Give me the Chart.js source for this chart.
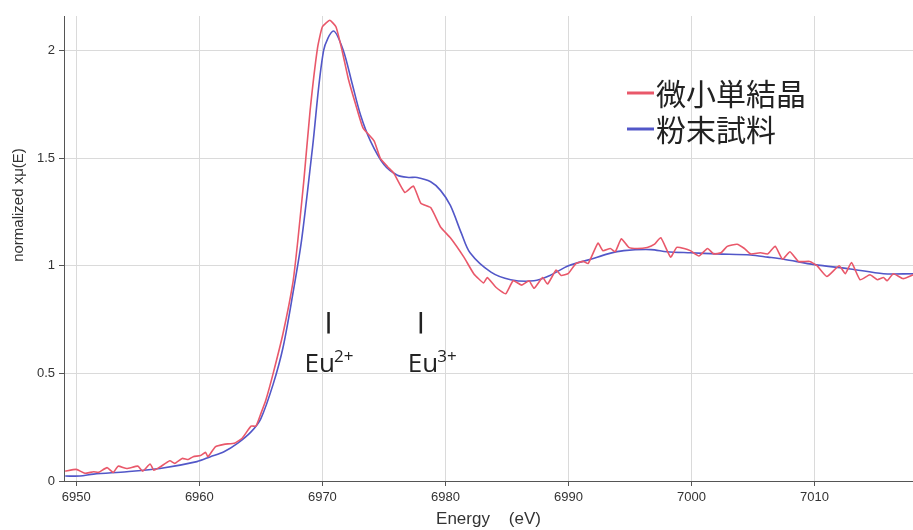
<!DOCTYPE html>
<html>
<head>
<meta charset="utf-8">
<script src="https://cdn.jsdelivr.net/npm/chart.js@4/dist/chart.umd.min.js"></script>
<style>
  html, body { margin: 0; padding: 0; background: #fff; }
  #wrap { width: 913px; height: 530px; }
</style>
</head>
<body>
<div id="wrap"><canvas id="xanes"></canvas></div>
<script>
// 微小単結晶 (red)
const redEnergy = [6949.1, 6950.0, 6950.7, 6951.4, 6951.8, 6952.5, 6953.0, 6953.4, 6954.1, 6955.0,
  6955.4, 6956.0, 6956.3, 6956.8, 6957.6, 6958.0, 6958.6, 6959.1, 6959.5, 6960.1,
  6960.5, 6960.7, 6961.3, 6962.0, 6962.9, 6963.5, 6964.2, 6964.6, 6965.0, 6965.4,
  6966.0, 6966.8, 6967.6, 6968.0, 6968.5, 6969.0, 6969.6, 6970.0, 6970.6, 6971.1,
  6971.6, 6972.1, 6972.7, 6973.3, 6974.2, 6974.7, 6975.3, 6975.8, 6976.7, 6977.4,
  6978.0, 6978.8, 6979.6, 6980.4, 6981.5, 6982.3, 6983.1, 6983.4, 6984.1, 6984.9,
  6985.5, 6986.2, 6986.8, 6987.2, 6987.9, 6988.3, 6989.0, 6989.4, 6990.0, 6990.6,
  6991.2, 6991.6, 6992.4, 6992.8, 6993.4, 6993.8, 6994.3, 6994.9, 6995.6, 6996.4,
  6997.0, 6997.5, 6998.3, 6998.8, 6999.4, 6999.9, 7000.6, 7001.3, 7001.8, 7002.4,
  7002.9, 7003.7, 7004.3, 7004.8, 7005.6, 7006.2, 7006.8, 7007.4, 7008.0, 7008.7,
  7009.6, 7010.2, 7011.0, 7012.0, 7012.5, 7013.0, 7013.7, 7014.5, 7015.1, 7015.6,
  7015.9, 7016.4, 7017.2, 7018.0];
const redMu = [0.046, 0.054, 0.036, 0.043, 0.040, 0.062, 0.040, 0.069, 0.058, 0.069,
  0.046, 0.079, 0.050, 0.065, 0.094, 0.082, 0.105, 0.100, 0.113, 0.118,
  0.133, 0.113, 0.159, 0.170, 0.177, 0.200, 0.255, 0.255, 0.313, 0.375,
  0.50, 0.685, 0.92, 1.115, 1.40, 1.72, 2.01, 2.11, 2.14, 2.11,
  2.00, 1.87, 1.75, 1.64, 1.58, 1.50, 1.46, 1.43, 1.34, 1.37,
  1.29, 1.27, 1.18, 1.13, 1.04, 0.963, 0.92, 0.945, 0.90, 0.87,
  0.93, 0.91, 0.93, 0.895, 0.945, 0.915, 0.98, 0.955, 0.965, 1.01,
  1.02, 1.01, 1.105, 1.07, 1.08, 1.065, 1.125, 1.085, 1.08, 1.085,
  1.10, 1.13, 1.04, 1.085, 1.08, 1.07, 1.045, 1.08, 1.055, 1.06,
  1.09, 1.10, 1.08, 1.055, 1.06, 1.055, 1.09, 1.03, 1.065, 1.02,
  1.02, 1.0, 0.95, 1.0, 0.963, 1.015, 0.935, 0.958, 0.935, 0.945,
  0.93, 0.963, 0.94, 0.958];

// 粉末試料 (blue)
const blueEnergy = [6949.1, 6950.3, 6951.4, 6954.1, 6956.8, 6959.8, 6960.9, 6962.0, 6963.1, 6964.2,
  6965.0, 6966.0, 6966.8, 6967.6, 6968.3, 6969.2, 6970.1, 6970.9, 6971.7, 6972.4,
  6973.1, 6973.9, 6975.0, 6976.1, 6977.0, 6977.7, 6978.8, 6979.6, 6980.4, 6981.3,
  6982.0, 6983.7, 6985.3, 6987.2, 6988.5, 6990.0, 6991.8, 6993.2, 6994.5, 6996.7,
  6998.0, 6999.9, 7002.1, 7004.8, 7006.2, 7007.5, 7010.0, 7012.9, 7015.6, 7018.0];
const blueMu = [0.023, 0.023, 0.032, 0.043, 0.058, 0.090, 0.113, 0.136, 0.175, 0.228,
  0.29, 0.45, 0.62, 0.87, 1.115, 1.55, 2.00, 2.09, 2.00, 1.85,
  1.70, 1.58, 1.47, 1.42, 1.41, 1.41, 1.39, 1.35, 1.28, 1.15,
  1.06, 0.97, 0.935, 0.93, 0.955, 1.00, 1.03, 1.055, 1.07, 1.075,
  1.065, 1.06, 1.055, 1.05, 1.04, 1.03, 1.005, 0.985, 0.963, 0.963];

const seriesNames = ['微小単結晶', '粉末試料'];
const seriesColors = ['#e9586a', '#5257c8'];

// Eu edge markers: bar energy, label text, superscript
const markerEnergy = [6970.5, 6978.0];
const markerBase = ['Eu', 'Eu'];
const markerSup = ['2+', '3+'];

const axisFont = "'Liberation Sans', Arial, sans-serif";

function pairs(xs, ys) {
  return xs.map((x, i) => ({ x: x, y: ys[i] }));
}

// ラベル・凡例・軸タイトルを描く
const extraText = {
  id: 'extraText',
  afterDraw(chart) {
    const ctx = chart.ctx;
    const xs = chart.scales.x, ys = chart.scales.y;
    ctx.save();

    // Eu markers
    ctx.fillStyle = '#222';
    ctx.strokeStyle = '#222';
    markerEnergy.forEach((e, i) => {
      const px = xs.getPixelForValue(e);
      ctx.lineWidth = 2.5;
      ctx.beginPath();
      ctx.moveTo(px, ys.getPixelForValue(0.785));
      ctx.lineTo(px, ys.getPixelForValue(0.685));
      ctx.stroke();
      const left = px - (i === 0 ? 24 : 13);
      const base = ys.getPixelForValue(0.505);
      ctx.font = '26px "Open Sans"';
      ctx.textAlign = 'left';
      ctx.textBaseline = 'alphabetic';
      ctx.fillText(markerBase[i], left, base);
      const w = ctx.measureText(markerBase[i]).width;
      ctx.font = '17px "Open Sans"';
      ctx.fillText(markerSup[i], left + w - 1, base - 10);
    });

    // legend
    const rows = [93, 129];
    ctx.font = '30px "Noto Sans CJK JP"';
    ctx.textBaseline = 'middle';
    seriesNames.forEach((name, i) => {
      ctx.strokeStyle = seriesColors[i];
      ctx.lineWidth = 3;
      ctx.beginPath();
      ctx.moveTo(627, rows[i]);
      ctx.lineTo(654, rows[i]);
      ctx.stroke();
      ctx.fillStyle = '#222';
      ctx.fillText(name, 656, rows[i] + 1);
    });

    // y axis title
    ctx.translate(19, 205);
    ctx.rotate(-Math.PI / 2);
    ctx.font = "15px 'Liberation Sans', Arial, sans-serif";
    ctx.fillStyle = '#333';
    ctx.textAlign = 'center';
    ctx.fillText('normalized xμ(E)', 0, 0);
    ctx.restore();
  }
};

new Chart(document.getElementById('xanes'), {
  type: 'scatter',
  data: {
    datasets: [
      {
        label: seriesNames[0],
        data: pairs(redEnergy, redMu),
        borderColor: seriesColors[0],
        borderWidth: 1.6,
        showLine: true,
        pointRadius: 0,
        tension: 0.15
      },
      {
        label: seriesNames[1],
        data: pairs(blueEnergy, blueMu),
        borderColor: seriesColors[1],
        borderWidth: 1.6,
        showLine: true,
        pointRadius: 0,
        tension: 0.3
      }
    ]
  },
  options: {
    responsive: true,
    maintainAspectRatio: false,
    animation: false,
    layout: { padding: { top: 16, right: 0, left: 0, bottom: 0 } },
    plugins: {
      legend: { display: false },
      tooltip: { enabled: false }
    },
    scales: {
      x: {
        type: 'linear',
        min: 6949,
        max: 7018,
        afterFit: function(scale) { scale.height = 49; },
        ticks: {
          stepSize: 10,
          includeBounds: false,
          color: '#333',
          font: { family: axisFont, size: 13 },
          padding: 4,
          maxRotation: 0,
          callback: function(value) { return String(value); }
        },
        grid: { color: '#dadada', tickColor: '#555', tickLength: 5 },
        border: { color: '#555', width: 1 },
        title: {
          display: true,
          text: 'Energy    (eV)',
          color: '#333',
          font: { family: axisFont, size: 17 },
          padding: { top: 0, bottom: 0 }
        }
      },
      y: {
        min: 0,
        max: 2.16,
        afterFit: function(scale) { scale.width = 64; },
        ticks: {
          stepSize: 0.5,
          includeBounds: false,
          color: '#333',
          font: { family: axisFont, size: 13 },
          padding: 4,
          callback: function(value) { return String(value); }
        },
        grid: { color: '#dadada', tickColor: '#555', tickLength: 5 },
        border: { color: '#555', width: 1 }
      }
    }
  },
  plugins: [extraText]
});
</script>
</body>
</html>
